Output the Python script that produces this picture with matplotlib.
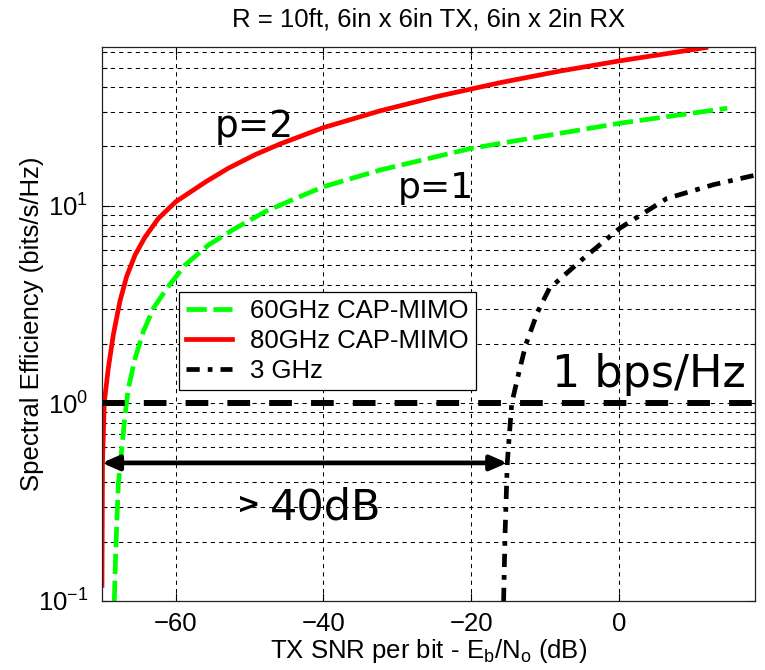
import matplotlib
matplotlib.use("Agg")
import matplotlib.pyplot as plt
from matplotlib.ticker import LogLocator, NullFormatter

# Spectral efficiency vs TX SNR per bit (dB)
snr_60 = [-68.33, -68.14, -67.79, -66.88, -66.43, -65.52, -64.4, -63.04, -61.22,
          -58.74, -55.58, -51.96, -47.9, -43.8, -40.0, -32.3, -20.1, -16.1, 0.1, 14.7]
se_60 = [0.1, 0.177, 0.388, 0.874, 1.19, 1.69, 2.31, 3.03, 3.82,
         5.02, 6.34, 7.69, 9.35, 10.9, 12.5, 15.2, 19.5, 20.7, 26.2, 31.2]

snr_80 = [-70.0, -69.93, -69.69, -69.15, -68.47, -67.56, -66.65, -65.52, -64.17,
          -62.36, -60.0, -56.0, -52.9, -49.2, -45.85, -40.0, -32.3, -24.6, -16.0,
          -8.0, 0.1, 11.8]
se_80 = [0.12, 0.50, 1.01, 1.50, 2.22, 3.30, 4.40, 5.64, 6.95,
         8.64, 10.5, 13.2, 15.5, 18.2, 20.6, 24.9, 30.3, 35.8, 42.1,
         48.1, 54.2, 63.3]

snr_3 = [-15.6, -15.4, -15.1, -14.5, -13.5, -12.6, -11.0, -9.4, -4.8, 0.1, 6.5, 12.8, 18.45]
se_3 = [0.1, 0.22, 0.5, 1.0, 1.45, 1.98, 2.9, 3.82, 5.42, 7.69, 10.9, 12.8, 14.3]

series_labels = ["60GHz CAP-MIMO", "80GHz CAP-MIMO", "3 GHz"]
x_ticks = [-60, -40, -20, 0]

target_se = 1.0            # 1 bps/Hz reference
gap_level = 0.5            # height of the SNR-gap arrow
gap_span = [-70.0, -15.1]  # from the 80 GHz curve to the 3 GHz curve

plt.rcParams["font.family"] = ["Liberation Sans", "DejaVu Sans"]
plt.rcParams["mathtext.fontset"] = "custom"
plt.rcParams["mathtext.rm"] = "Liberation Sans"
plt.rcParams["mathtext.it"] = "Liberation Sans:italic"
plt.rcParams["mathtext.default"] = "regular"

fs = 18.5
fig = plt.figure(figsize=(7.65, 6.7), dpi=100)
ax = fig.add_axes([0.1333, 0.1030, 0.8536, 0.8264])

ax.plot(snr_60, se_60, color=(0, 1, 0), lw=3.4, dashes=(4.3, 1.4), label=series_labels[0])
ax.plot(snr_80, se_80, color=(1, 0, 0), lw=3.4, label=series_labels[1])
ax.plot(snr_3, se_3, color="black", lw=3.4, dashes=(2.8, 1.7, 1.0, 1.7), label=series_labels[2])
ax.axhline(target_se, color="black", lw=4.3, dashes=(3.8, 3.2))

ax.set_yscale("log")
ax.set_xlim(-70, 18.45)
ax.set_ylim(0.1, 63.5)
ax.set_xticks(x_ticks)
ax.yaxis.set_major_locator(LogLocator(base=10, numticks=10))
ax.yaxis.set_minor_locator(LogLocator(base=10, subs=range(2, 10), numticks=20))
ax.yaxis.set_minor_formatter(NullFormatter())

grid_kw = dict(color="black", lw=0.75, linestyle=(0, (4, 4)))
ax.grid(True, which="major", axis="both", **grid_kw)
ax.grid(True, which="minor", axis="y", **grid_kw)

ax.tick_params(which="both", direction="in", top=True, right=True, labelsize=fs)
ax.tick_params(which="major", length=6, width=0.8)
ax.tick_params(which="minor", length=3.5, width=0.8)
ax.tick_params(axis="x", pad=8)
ax.tick_params(axis="y", pad=10)
for sp in ax.spines.values():
    sp.set_linewidth(0.9)
    sp.set_color("#222222")

ax.set_title("R = 10ft, 6in x 6in TX, 6in x 2in RX", fontsize=fs, pad=15)
ax.set_xlabel("TX SNR per bit - E$_\\mathregular{b}$/N$_\\mathregular{o}$ (dB)", fontsize=fs, labelpad=1)
ax.set_ylabel("Spectral Efficiency (bits/s/Hz)", fontsize=fs)
ax.yaxis.set_label_coords(-0.089, 0.5)

leg = ax.legend(loc="upper left", bbox_to_anchor=(0.118, 0.5586), borderaxespad=0,
                fontsize=fs, frameon=True, fancybox=False, framealpha=1,
                edgecolor="black", handlelength=1.8, handletextpad=0.7,
                borderpad=0.28, labelspacing=0.24)
leg.get_frame().set_linewidth(0.9)

# hand-drawn style annotations
note_font = "DejaVu Sans"
ax.text(-54.7, 22.4, "p=2", fontsize=27, family=note_font, ha="left", va="baseline")
ax.text(-30.0, 11.0, "p=1", fontsize=26, family=note_font, ha="left", va="baseline")
ax.text(-9.0, 1.215, "1 bps/Hz", fontsize=32, family=note_font, ha="left", va="baseline")
ax.text(-47.2, 0.258, "40dB", fontsize=31, family=note_font, ha="left", va="baseline")
ax.text(-51.7, 0.307, ">", fontsize=20, family=note_font, ha="left", va="center",
        fontweight="bold")

ax.annotate("", xy=(gap_span[0], gap_level), xytext=(gap_span[1], gap_level),
            arrowprops=dict(arrowstyle="<|-|>,head_length=0.5,head_width=0.22",
                            lw=3.4, color="black", shrinkA=0, shrinkB=0,
                            mutation_scale=20))

fig.savefig("out.png", dpi=100)
